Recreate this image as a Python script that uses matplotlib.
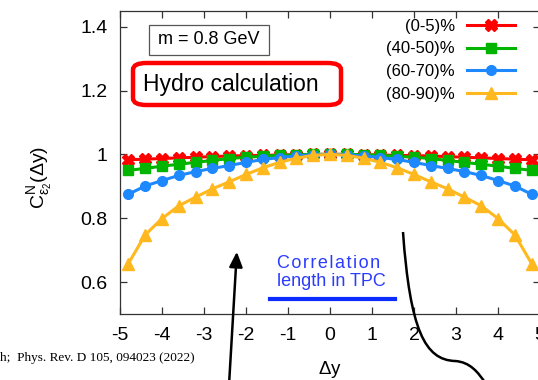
import matplotlib
matplotlib.use('Agg')
import matplotlib.pyplot as plt
from matplotlib.patches import FancyBboxPatch, PathPatch, Rectangle
from matplotlib.path import Path

plt.rcParams['font.family'] = ['Liberation Sans', 'DejaVu Sans']
plt.rcParams['mathtext.fontset'] = 'custom'
plt.rcParams['mathtext.rm'] = 'Liberation Sans'
plt.rcParams['mathtext.it'] = 'Liberation Sans'
plt.rcParams['axes.unicode_minus'] = False

# 数据
dy = [-4.8, -4.4, -4.0, -3.6, -3.2, -2.8, -2.4, -2.0, -1.6, -1.2, -0.8, -0.4, 0.0,
      0.4, 0.8, 1.2, 1.6, 2.0, 2.4, 2.8, 3.2, 3.6, 4.0, 4.4, 4.8]
c_0_5 = [0.983, 0.985, 0.987, 0.989, 0.991, 0.993, 0.995, 0.996, 0.997, 0.998, 0.999, 1.0, 1.0,
         1.0, 0.999, 0.998, 0.997, 0.996, 0.995, 0.993, 0.991, 0.989, 0.987, 0.985, 0.983]
c_40_50 = [0.950, 0.956, 0.963, 0.969, 0.975, 0.981, 0.987, 0.991, 0.994, 0.997, 0.999, 1.0, 1.0,
           1.0, 0.999, 0.997, 0.994, 0.991, 0.987, 0.981, 0.975, 0.969, 0.963, 0.956, 0.950]
c_60_70 = [0.875, 0.901, 0.918, 0.934, 0.946, 0.956, 0.965, 0.975, 0.984, 0.990, 0.995, 0.999, 1.0,
           0.999, 0.995, 0.990, 0.984, 0.975, 0.965, 0.956, 0.946, 0.934, 0.918, 0.901, 0.875]
c_80_90 = [0.658, 0.748, 0.799, 0.839, 0.866, 0.892, 0.914, 0.937, 0.958, 0.975, 0.988, 0.997, 1.0,
           0.997, 0.988, 0.975, 0.958, 0.937, 0.914, 0.892, 0.866, 0.839, 0.799, 0.748, 0.658]
labels = ['(0-5)%', '(40-50)%', '(60-70)%', '(80-90)%']
xticks = [-5, -4, -3, -2, -1, 0, 1, 2, 3, 4, 5]
yticks = [0.6, 0.8, 1.0, 1.2, 1.4]
yticklabels = ['0.6', '0.8', '1', '1.2', '1.4']

W, H = 538, 380
def fx(x):
    return x / W
def fy(y):
    return 1 - y / H

fig = plt.figure(figsize=(W / 100, H / 100), dpi=100)
ax = fig.add_axes([fx(120), fy(314), 420 / W, (314 - 10.7) / H])

styles = [('#ff0000', 'X', 8), ('#00b400', 's', 7), ('#1e88ff', 'o', 7), ('#ffb81e', '^', 9)]
for yv, lab, (c, m, ms) in zip([c_0_5, c_40_50, c_60_70, c_80_90], labels, styles):
    ax.plot(dy, yv, color=c, marker=m, ms=ms, lw=2.2, label=lab, clip_on=False)

ax.set_xlim(-5, 5)
ax.set_ylim(0.5, 1.45)
ax.set_xticks(xticks)
ax.set_yticks(yticks)
ax.set_yticklabels(yticklabels)
ax.tick_params(direction='in', length=5, width=0.9, labelsize=14, pad=9,
               top=True, right=True, colors='#333333', labelcolor='black')
for s in ax.spines.values():
    s.set_color('#333333')
    s.set_linewidth(0.9)

ax.set_xlabel(r'$\Delta$y', fontsize=13.5)
ax.xaxis.set_label_coords(0.5, -0.15)
ax.set_ylabel(r'$\mathrm{C^{N}_{\epsilon_{2}}(\Delta y)}$', fontsize=14)
ax.yaxis.set_label_coords(-0.157, 0.452)

ax.legend(loc='upper right', bbox_to_anchor=(fx(515), fy(19)), bbox_transform=fig.transFigure,
          frameon=False, markerfirst=False, fontsize=12, handlelength=2.9,
          handletextpad=0.7, labelspacing=0.45, borderpad=0, borderaxespad=0)

# m = 0.8 GeV 框
fig.patches.append(Rectangle((fx(149), fy(55)), 120 / W, 30 / H, transform=fig.transFigure,
                             fill=False, ec='#555555', lw=0.9))
fig.text(fx(209), fy(40), 'm = 0.8 GeV', fontsize=13, ha='center', va='center')

# Hydro calculation 红框
fig.patches.append(FancyBboxPatch((fx(133), fy(105)), 208 / W, 42 / H, transform=fig.transFigure,
                                  boxstyle='round,pad=0,rounding_size=0.025', fill=False,
                                  ec='#ff0000', lw=3.2, mutation_aspect=H / W))
fig.text(fx(231), fy(84), 'Hydro calculation', fontsize=16.5, ha='center', va='center')

# Correlation length in TPC
sp = '\u200a'
fig.text(fx(277), fy(263), sp.join('Correlation'), fontsize=13, color='#2b3cff',
         ha='left', va='center')
fig.text(fx(277), fy(282), 'length in TPC', fontsize=13, color='#2b3cff', ha='left', va='center')
fig.add_artist(plt.Line2D([fx(270), fx(395)], [fy(299), fy(299)], color='#0a2cff', lw=3,
                          transform=fig.transFigure))

# 箭头和曲线
ax.annotate('', xy=(fx(237), fy(249)), xytext=(fx(229), fy(385)), xycoords='figure fraction',
            textcoords='figure fraction', annotation_clip=False,
            arrowprops=dict(arrowstyle='-|>,head_length=0.9,head_width=0.4', lw=1.8, color='black'))
verts = [(403, 232), (410, 330), (425, 360), (455, 361), (470, 362), (478, 372), (486, 384)]
codes = [Path.MOVETO, Path.CURVE4, Path.CURVE4, Path.CURVE4, Path.CURVE4, Path.CURVE4, Path.CURVE4]
path = Path([(fx(x), fy(y)) for x, y in verts], codes)
fig.patches.append(PathPatch(path, transform=fig.transFigure, fill=False, lw=1.8, ec='black'))

# 引用
fig.text(0, fy(358), 'h;  Phys. Rev. D 105, 094023 (2022)', fontsize=9.5,
         family='Liberation Serif', ha='left', va='center')

plt.savefig('out.png', dpi=100)
